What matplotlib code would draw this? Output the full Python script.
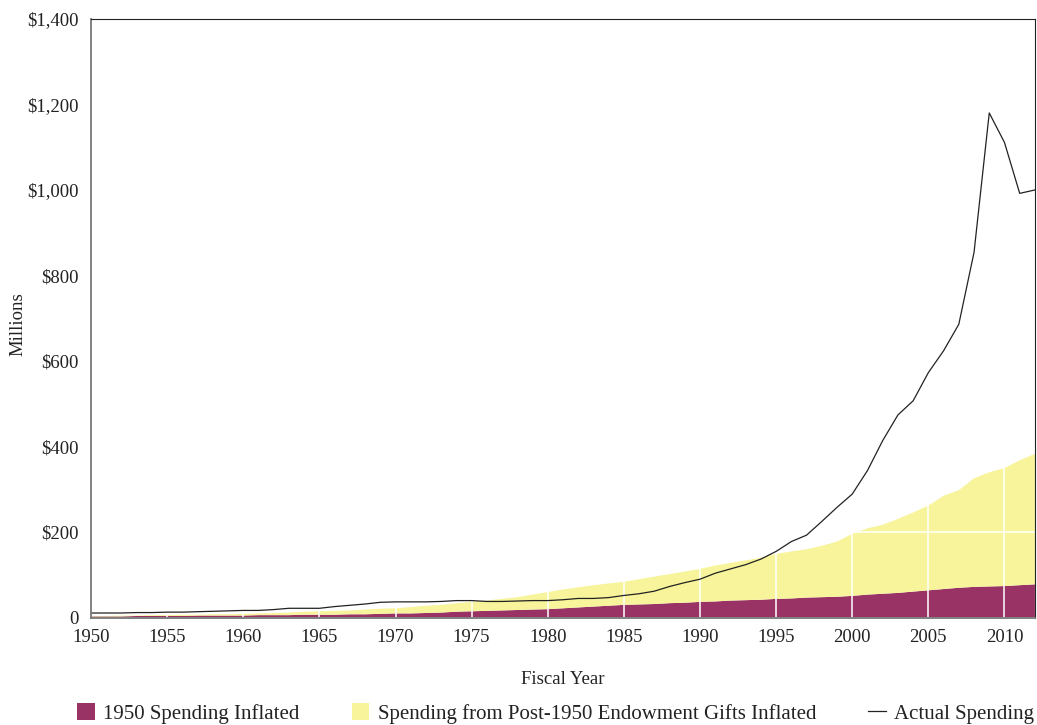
import matplotlib.pyplot as plt
import numpy as np
from matplotlib.patches import Patch
from matplotlib.lines import Line2D

plt.rcParams['font.family'] = ['Liberation Serif', 'DejaVu Serif']

# Data ($ millions)
years = np.arange(1950, 2013)
inflated_1950 = [3, 3, 3, 4, 4, 4, 4, 5, 5, 5,
                 5, 6, 6, 6, 7, 7, 7, 8, 8, 9,
                 10, 10, 11, 12, 14, 15, 16, 17, 18, 19,
                 20, 22, 24, 26, 28, 30, 31, 32, 34, 35,
                 37, 38, 40, 41, 42, 44, 45, 47, 48, 49,
                 51, 54, 56, 58, 61, 64, 67, 70, 72, 73,
                 74, 76, 78]
post_gifts = [1, 1, 2, 1, 2, 2, 3, 2, 3, 3,
              4, 4, 5, 6, 7, 8, 9, 9, 11, 12,
              12, 15, 17, 18, 20, 22, 24, 27, 30, 35,
              40, 44, 47, 50, 52, 54, 59, 64, 68, 73,
              77, 84, 88, 93, 98, 105, 110, 113, 120, 129,
              145, 155, 161, 173, 185, 198, 218, 228, 254, 267,
              276, 292, 305]
actual = [11, 11, 11, 12, 12, 13, 13, 14, 15, 16,
          17, 17, 19, 22, 22, 22, 26, 29, 32, 36,
          37, 37, 37, 38, 40, 40, 38, 38, 39, 40,
          40, 42, 45, 45, 47, 52, 56, 62, 73, 82,
          90, 104, 114, 124, 137, 155, 178, 193, 225, 258,
          289, 344, 414, 474, 507, 573, 624, 686, 854, 1180,
          1111, 992, 1000]

y_ticks = [0, 200, 400, 600, 800, 1000, 1200, 1400]
y_tick_labels = ['0', '$200', '$400', '$600', '$800', '$1,000', '$1,200', '$1,400']
x_ticks = list(range(1950, 2011, 5))

purple = '#993366'
yellow = '#f7f49b'

fig = plt.figure(figsize=(10.37, 7.25), dpi=100)
ax = fig.add_axes([0.0878, 0.148, 0.9102, 0.826])

ax.stackplot(years, inflated_1950, post_gifts, colors=[purple, yellow], linewidth=0)
ax.plot(years, actual, color='#222222', linewidth=0.9, zorder=3)

ax.set_xlim(1950, 2012)
ax.set_ylim(0, 1400)
ax.set_xticks(x_ticks)
ax.set_yticks(y_ticks)
ax.set_yticklabels(y_tick_labels)

ax.set_axisbelow(False)
ax.grid(True, color='white', linewidth=1.1)

ax.tick_params(axis='both', length=0, labelsize=13.5, colors='#222222')
ax.tick_params(axis='y', pad=9)
ax.tick_params(axis='x', pad=8)

for side in ['left', 'bottom']:
    ax.spines[side].set_color('#777777')
    ax.spines[side].set_linewidth(1.3)
for side in ['top', 'right']:
    ax.spines[side].set_color('#222222')
    ax.spines[side].set_linewidth(0.8)
for side in ax.spines:
    ax.spines[side].set_zorder(4)

ax.set_xlabel('Fiscal Year', fontsize=13.5, labelpad=18, color='#222222')
ax.set_ylabel('Millions', fontsize=13.5, color='#222222')
ax.yaxis.set_label_coords(-0.068, 0.49)

handles = [Patch(facecolor=purple, edgecolor='none', label='1950 Spending Inflated'),
           Patch(facecolor=yellow, edgecolor='none', label='Spending from Post-1950 Endowment Gifts Inflated'),
           Line2D([], [], color='#222222', linewidth=0.9, label='Actual Spending')]
fig.legend(handles=handles, loc='lower center', bbox_to_anchor=(0.536, -0.024), ncol=3,
           frameon=False, fontsize=15, handlelength=0.85, handleheight=0.85,
           handletextpad=0.4, columnspacing=2.5, labelcolor='#222222')

fig.savefig('out.png', dpi=100)
